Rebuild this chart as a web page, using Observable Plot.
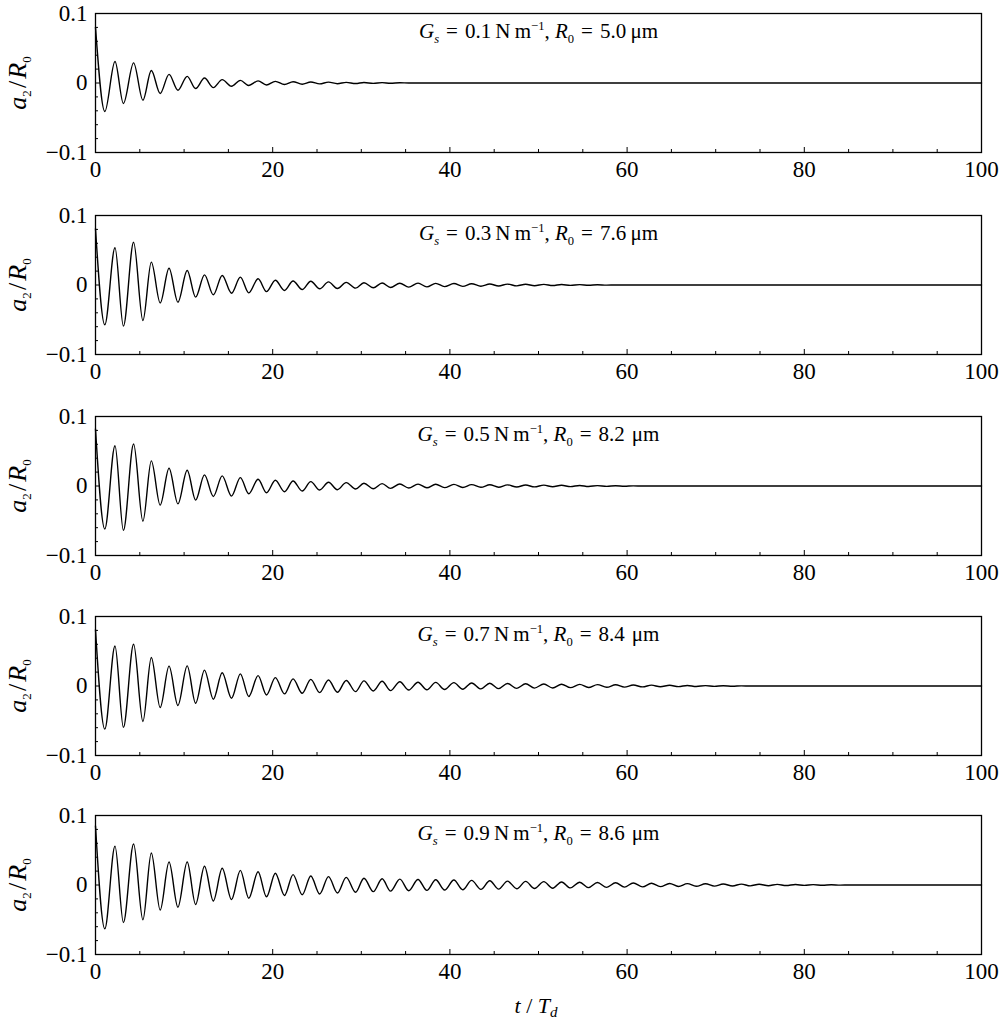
<!DOCTYPE html>
<html>
<head>
<meta charset="utf-8">
<script src="https://cdn.jsdelivr.net/npm/d3@7"></script>
<script src="https://cdn.jsdelivr.net/npm/@observablehq/plot@0.6"></script>
<style>
  body { margin: 0; background: #fff; }
  #chart { position: relative; width: 1005px; height: 1020px; font-family: "Liberation Serif", "Times New Roman", serif; color: #000; }
  #chart svg { position: absolute; left: 0; overflow: visible; }
  #xlabel { position: absolute; left: 0; width: 1072px; text-align: center; font-size: 22px; line-height: 24px; white-space: pre; }
  #xlabel sub { font-size: 15px; vertical-align: -4px; line-height: 0; }
</style>
</head>
<body>
<div id="chart"><div id="xlabel"><i>t</i> / <i>T<sub>d</sub></i></div></div>
<script>
// Times (t/T_d) of the start point and of each successive extremum (trough, peak, trough, ...)
const extremaT = [
  0, 1.05, 2.2, 3.15, 4.3, 5.35, 6.3, 7.3, 8.3, 9.3,
  10.35, 11.3, 12.3, 13.3, 14.3, 15.35, 16.35, 17.3, 18.35, 19.3,
  20.3, 21.33, 22.3, 23.33, 24.3, 25.3, 26.3, 27.3, 28.3, 29.35,
  30.3, 31.35, 32.35, 33.3, 34.35, 35.35, 36.4, 37.4, 38.4, 39.4,
  40.45, 41.45, 42.45, 43.5, 44.5, 45.5, 46.5, 47.55, 48.55, 49.55,
  50.6, 51.6, 52.6, 53.6, 54.65, 55.65, 56.65, 57.7, 58.7, 59.7,
  60.7, 61.75, 62.75, 63.75, 64.8, 65.8, 66.8, 67.8, 68.85, 69.85,
  70.85, 71.9, 72.9, 73.9, 74.9, 75.95, 76.95, 77.95, 79.0, 80.0,
  81.0, 82.05, 83.05, 84.05, 85.1, 100
];

// a2/R0 at those times, one array per panel
const panel1 = [
  0.08, -0.041, 0.031, -0.0295, 0.029, -0.0247, 0.018, -0.015, 0.0124, -0.0104,
  0.0096, -0.008, 0.0071, -0.0066, 0.0048, -0.0047, 0.0038, -0.0035, 0.003, -0.0028,
  0.0024, -0.0022, 0.0019, -0.0017, 0.0015, -0.0013, 0.0012, -0.001, 0.0009, -0.0008,
  0.0007, -0.0006, 0.0005, -0.0004, 0.0003, 0, 0, 0, 0, 0,
  0, 0, 0, 0, 0, 0, 0, 0, 0, 0,
  0, 0, 0, 0, 0, 0, 0, 0, 0, 0,
  0, 0, 0, 0, 0, 0, 0, 0, 0, 0,
  0, 0, 0, 0, 0, 0, 0, 0, 0, 0,
  0, 0, 0, 0, 0, 0
];
const panel2 = [
  0.081, -0.0573, 0.0535, -0.0592, 0.0616, -0.0511, 0.0329, -0.0257, 0.0242, -0.0247,
  0.0209, -0.0175, 0.0146, -0.0141, 0.0137, -0.0118, 0.0113, -0.0113, 0.0089, -0.0095,
  0.0068, -0.0079, 0.0058, -0.0065, 0.0055, -0.0055, 0.0045, -0.005, 0.0038, -0.0045,
  0.0033, -0.004, 0.0028, -0.0036, 0.0026, -0.0031, 0.0027, -0.0027, 0.0024, -0.0023,
  0.0021, -0.002, 0.0018, -0.0017, 0.0015, -0.0014, 0.0013, -0.0012, 0.0011, -0.001,
  0.0009, -0.0008, 0.0007, -0.0006, 0.0005, -0.0004, 0.0003, -0.0002, 0, 0,
  0, 0, 0, 0, 0, 0, 0, 0, 0, 0,
  0, 0, 0, 0, 0, 0, 0, 0, 0, 0,
  0, 0, 0, 0, 0, 0
];
const panel3 = [
  0.082, -0.0618, 0.058, -0.0638, 0.0604, -0.0507, 0.0362, -0.0275, 0.0256, -0.0256,
  0.0227, -0.0203, 0.016, -0.015, 0.0145, -0.0145, 0.0121, -0.0111, 0.0097, -0.0097,
  0.0082, -0.0082, 0.0072, -0.0072, 0.0063, -0.0058, 0.0053, -0.0053, 0.0048, -0.0043,
  0.0039, -0.0039, 0.0034, -0.0034, 0.0029, -0.0029, 0.0027, -0.0026, 0.0025, -0.0024,
  0.0023, -0.0021, 0.002, -0.0019, 0.0018, -0.0017, 0.0016, -0.0015, 0.0014, -0.0013,
  0.0012, -0.0011, 0.001, -0.0009, 0.0008, -0.0007, 0.0006, -0.0005, 0.0004, -0.0003,
  0.0002, 0, 0, 0, 0, 0, 0, 0, 0, 0,
  0, 0, 0, 0, 0, 0, 0, 0, 0, 0,
  0, 0, 0, 0, 0, 0
];
const panel4 = [
  0.081, -0.062, 0.0576, -0.0595, 0.06, -0.051, 0.041, -0.031, 0.0286, -0.028,
  0.029, -0.0248, 0.0229, -0.019, 0.019, -0.0176, 0.0175, -0.0152, 0.015, -0.0129,
  0.012, -0.0114, 0.0102, -0.0105, 0.0095, -0.0095, 0.0086, -0.009, 0.008, -0.0081,
  0.0074, -0.0071, 0.0068, -0.0067, 0.0062, -0.0057, 0.0055, -0.0054, 0.0052, -0.005,
  0.0048, -0.0046, 0.0044, -0.0042, 0.004, -0.0038, 0.0036, -0.0034, 0.0032, -0.003,
  0.0029, -0.0028, 0.0026, -0.0024, 0.0023, -0.0022, 0.002, -0.0019, 0.0017, -0.0016,
  0.0014, -0.0013, 0.0012, -0.0011, 0.001, -0.0009, 0.0008, -0.0007, 0.0006, -0.0005,
  0.0004, -0.0003, 0.0002, 0, 0, 0, 0, 0, 0, 0,
  0, 0, 0, 0, 0, 0
];
const panel5 = [
  0.085, -0.063, 0.056, -0.054, 0.059, -0.05, 0.046, -0.036, 0.033, -0.032,
  0.033, -0.028, 0.027, -0.023, 0.024, -0.021, 0.021, -0.019, 0.019, -0.017,
  0.017, -0.015, 0.015, -0.014, 0.013, -0.013, 0.012, -0.0115, 0.011, -0.0105,
  0.0098, -0.0095, 0.009, -0.0088, 0.0085, -0.0082, 0.008, -0.0078, 0.0075, -0.0073,
  0.0071, -0.0068, 0.0066, -0.0063, 0.0061, -0.0059, 0.0056, -0.0054, 0.0052, -0.005,
  0.0048, -0.0046, 0.0044, -0.0042, 0.004, -0.0038, 0.0036, -0.0034, 0.0032, -0.003,
  0.0029, -0.0027, 0.0025, -0.0024, 0.0022, -0.0021, 0.002, -0.0018, 0.0017, -0.0016,
  0.0015, -0.0014, 0.0013, -0.0012, 0.0011, -0.001, 0.0009, -0.0008, 0.0007, -0.0006,
  0.0005, -0.0004, 0.0003, -0.0002, 0, 0
];

const panelValues = [panel1, panel2, panel3, panel4, panel5];
const gsLabels = ["0.1", "0.3", "0.5", "0.7", "0.9"];
const r0Labels = ["5.0", "7.6", "8.2", "8.4", "8.6"];
const xTicks = [0, 20, 40, 60, 80, 100];
const xMinorTicks = [5, 10, 15, 25, 30, 35, 45, 50, 55, 65, 70, 75, 85, 90, 95];
const yTicks = [-0.1, 0, 0.1];
const yTickLabels = ["\u22120.1", "0", "0.1"];
const yMinorTicks = [-0.08, -0.06, -0.04, -0.02, 0.02, 0.04, 0.06, 0.08];

// layout
const W = 1005, ML = 95, MR = 24, MT = 13, FH = 139, MB = 48;
const panelTops = [13, 215, 416, 616, 815];
const innerW = W - ML - MR;
const NS = "http://www.w3.org/2000/svg";

function richText(el, parts, subScale) {
  el.textContent = "";
  el.setAttribute("style", "white-space: pre");
  let shift = 0;
  const fs = parseFloat(el.getAttribute("font-size") || 18);
  for (const p of parts) {
    const t = document.createElementNS(NS, "tspan");
    const target = p.sub ? 0.28 : p.sup ? -0.42 : 0;
    const dy = (target - shift) * fs;
    if (dy !== 0) t.setAttribute("dy", dy.toFixed(2));
    shift = target;
    if (p.i) t.setAttribute("font-style", "italic");
    if (p.sub || p.sup) t.setAttribute("font-size", (fs * subScale).toFixed(1));
    t.textContent = p.s;
    el.appendChild(t);
  }
}

const chart = document.getElementById("chart");

panelValues.forEach((vals, k) => {
  const data = extremaT.map((t, i) => ({t, a: vals[i]}));
  const annotation = `G_s = ${gsLabels[k]} N m-1, R0 = ${r0Labels[k]} μm`;
  const svg = Plot.plot({
    width: W,
    height: MT + FH + MB,
    marginLeft: ML, marginRight: MR, marginTop: MT, marginBottom: MB,
    x: {domain: [0, 100]},
    y: {domain: [-0.1, 0.1]},
    style: {fontFamily: '"Liberation Serif", "Times New Roman", serif', fontSize: "23px", color: "#000", background: "transparent", overflow: "visible"},
    marks: [
      Plot.tickX(xMinorTicks, {x: d => d, insetTop: FH - 3, stroke: "#000", strokeWidth: 1}),
      Plot.tickX(xTicks, {x: d => d, insetTop: FH - 5, stroke: "#000", strokeWidth: 1}),
      Plot.tickY(yMinorTicks, {y: d => d, insetRight: innerW - 3, stroke: "#000", strokeWidth: 1}),
      Plot.tickY(yTicks, {y: d => d, insetRight: innerW - 5, stroke: "#000", strokeWidth: 1}),
      Plot.axisX({ticks: xTicks, tickSize: 0, tickPadding: 8, label: null, fill: "#000"}),
      Plot.axisY({ticks: yTicks, tickSize: 0, tickPadding: 8, label: null, fill: "#000",
                  tickFormat: d => yTickLabels[yTicks.indexOf(d)]}),
      Plot.line(data, {x: "t", y: "a", curve: "monotone-x", stroke: "#000", strokeWidth: 1.4}),
      Plot.frame({stroke: "#000", strokeWidth: 1.3}),
      Plot.text([annotation], {text: d => d, frameAnchor: "top", textAnchor: "middle", dy: 24, lineAnchor: "bottom", fontSize: 21, fill: "#000"}),
      Plot.text(["a2/R0"], {text: d => d, frameAnchor: "left", textAnchor: "middle", dx: -78, rotate: -90, fontSize: 26, fill: "#000"})
    ]
  });
  svg.style.top = (panelTops[k] - MT) + "px";
  chart.appendChild(svg);

  svg.querySelectorAll("text").forEach(el => {
    if (el.textContent === annotation) {
      richText(el, [
        {s: "G", i: 1}, {s: "s", i: 1, sub: 1},
        {s: "\u2004=\u2004" + gsLabels[k] + "\u2009N\u2009m"}, {s: "\u22121", sup: 1},
        {s: ", "}, {s: "R", i: 1}, {s: "0", sub: 1},
        {s: "\u2004=\u2004" + r0Labels[k] + (k >= 2 ? "\u2004" : "\u2009") + "μm"}
      ], 0.7);
    } else if (el.textContent === "a2/R0") {
      richText(el, [
        {s: "a", i: 1}, {s: "2", sub: 1}, {s: "\u200a/\u200a"}, {s: "R", i: 1}, {s: "0", sub: 1}
      ], 0.72);
    }
  });
});

const xl = document.getElementById("xlabel");
xl.style.top = "994px";
</script>
</body>
</html>
